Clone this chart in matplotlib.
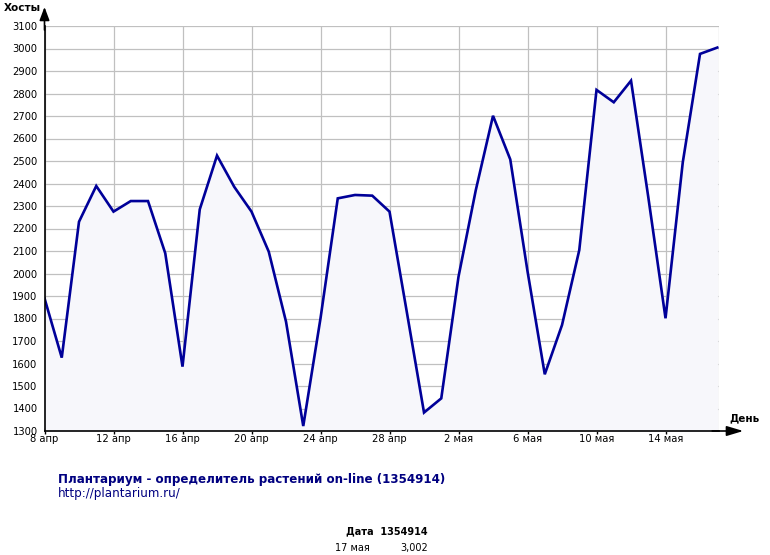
import matplotlib
matplotlib.use("Agg")
import matplotlib.pyplot as plt
import numpy as np

# visits per day, 8 apr .. 17 may
hosts = [
    1890, 1626, 2230, 2389, 2275, 2322, 2322, 2090, 1586, 2285,
    2524, 2385, 2275, 2097, 1786, 1322, 1801, 2334, 2349, 2346,
    2275, 1830, 1382, 1445, 1986, 2370, 2701, 2507, 2010, 1552,
    1771, 2104, 2816, 2761, 2857, 2340, 1801, 2494, 2976, 3004,
]
tick_days = [0, 4, 8, 12, 16, 20, 24, 28, 32, 36]
tick_labels = ["8 апр", "12 апр", "16 апр", "20 апр", "24 апр", "28 апр",
               "2 мая", "6 мая", "10 мая", "14 мая"]
y_ticks = list(range(1300, 3101, 100))

title = "Плантариум - определитель растений on-line (1354914)"
url = "http://plantarium.ru/"
last_date = "17 мая"
last_value = "3,002"

plt.rcParams["font.family"] = ["Verdana", "DejaVu Sans"]
W, H = 770, 555
fig = plt.figure(figsize=(W / 100, H / 100), dpi=100)
ax = fig.add_axes([44.5 / W, (H - 431) / H, (719 - 44.5) / W, (431 - 26) / H])

days = np.arange(len(hosts))
line_col = "#000099"
ax.fill_between(days, hosts, 1300, color="#f7f7fb", zorder=1)
ax.plot(days, hosts, color=line_col, lw=1.9, zorder=3, solid_joinstyle="miter")

ax.set_xlim(0, 39.1)
ax.set_ylim(1300, 3100)
ax.set_xticks(tick_days)
ax.set_xticklabels(tick_labels, fontsize=7.2)
ax.set_yticks(y_ticks)
ax.set_yticklabels([str(v) for v in y_ticks], fontsize=7.2)
ax.set_yticks([2000, 3000], minor=True)
ax.tick_params(axis="x", length=5, width=1, pad=0, direction="inout", color="black")
ax.tick_params(axis="y", which="major", length=0, pad=5)
ax.tick_params(axis="y", which="minor", length=3, width=1, direction="in")
ax.grid(True, which="major", color="#c0c0c0", lw=0.9, zorder=0)
ax.set_axisbelow(True)
for s in ["top", "right"]:
    ax.spines[s].set_visible(False)
for s in ["left", "bottom"]:
    ax.spines[s].set_linewidth(1.2)
    ax.spines[s].set_zorder(4)
# right border grid line
ax.axvline(39.1, color="#c0c0c0", lw=0.9, zorder=0)

# axis arrows
arrow_x = dict(arrowstyle="-|>,head_length=1.0,head_width=0.3", color="black",
               lw=1.2, mutation_scale=10, shrinkA=0, shrinkB=0)
arrow_y = dict(arrowstyle="-|>,head_length=0.8,head_width=0.3", color="black",
               lw=1.2, mutation_scale=10, shrinkA=0, shrinkB=0)
ax.annotate("", xy=(1.036, 0), xytext=(0.99, 0), xycoords="axes fraction",
            arrowprops=arrow_x, annotation_clip=False)
ax.annotate("", xy=(0, 1.047), xytext=(0, 0.99), xycoords="axes fraction",
            arrowprops=arrow_y, annotation_clip=False)

fig.text(4 / W, 1 - 8 / H, "Хосты", fontsize=7.5, fontweight="bold", va="center")
fig.text(729 / W, 1 - 418 / H, "День", fontsize=7.5, fontweight="bold", va="center")

fig.text(58 / W, 1 - 479 / H, title, fontsize=8.6, fontweight="bold",
         color="#000080", va="center")
fig.text(58 / W, 1 - 493 / H, url, fontsize=8.6, color="#000080", va="center")

fig.text(428 / W, 1 - 531 / H, "Дата  1354914", fontsize=7, fontweight="bold",
         ha="right", va="center")
fig.text(335 / W, 1 - 548 / H, last_date, fontsize=7, va="center")
fig.text(428 / W, 1 - 548 / H, last_value, fontsize=7, ha="right", va="center")

fig.savefig("out.png", dpi=100)
